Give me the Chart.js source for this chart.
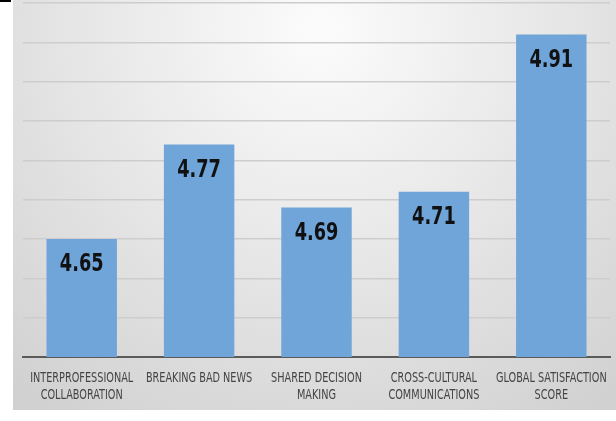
<!DOCTYPE html>
<html>
<head>
<meta charset="utf-8">
<script src="https://cdn.jsdelivr.net/npm/chart.js@4/dist/chart.umd.min.js"></script>
<style>
    html, body { margin: 0; padding: 0; background: #ffffff; }
    #wrap { position: relative; width: 616px; height: 421px; }
</style>
</head>
<body>
<div id="wrap"><canvas id="scores" width="616" height="421"></canvas></div>
<script>
// mean scores per topic
const categories = [
    ['INTERPROFESSIONAL', 'COLLABORATION'],
    ['BREAKING BAD NEWS'],
    ['SHARED DECISION', 'MAKING'],
    ['CROSS-CULTURAL', 'COMMUNICATIONS'],
    ['GLOBAL SATISFACTION', 'SCORE']
];
const scores = [4.65, 4.77, 4.69, 4.71, 4.91];
const gridValues = [4.5, 4.55, 4.6, 4.65, 4.7, 4.75, 4.8, 4.85, 4.9, 4.95];

const condensed = '"DejaVu Sans Condensed", "Liberation Sans", sans-serif';

// grey panel with a light spot near the top
const panelBackground = {
    id: 'panelBackground',
    beforeDraw(chart) {
        const c = chart.ctx;
        const x0 = 13, y0 = 0, x1 = chart.width, y1 = 410;
        const g = c.createRadialGradient(320, 30, 10, 320, 30, 480);
        g.addColorStop(0, '#fbfbfb');
        g.addColorStop(0.45, '#e8e8e8');
        g.addColorStop(1, '#d0d0d0');
        c.save();
        c.fillStyle = g;
        c.fillRect(x0, y0, x1 - x0, y1 - y0);
        c.fillStyle = '#000000';
        c.fillRect(0, 0, 11, 2);
        c.restore();
    }
};

// draws text squeezed horizontally, centred on x
function narrowText(c, text, x, y, squeeze) {
    c.save();
    c.translate(x, y);
    c.scale(squeeze, 1);
    c.fillText(text, 0, 0);
    c.restore();
}

// value printed inside the top of each bar
const barValues = {
    id: 'barValues',
    afterDatasetsDraw(chart) {
        const c = chart.ctx;
        const meta = chart.getDatasetMeta(0);
        c.save();
        c.fillStyle = '#111111';
        c.font = 'bold 24px ' + condensed;
        c.textAlign = 'center';
        c.textBaseline = 'middle';
        meta.data.forEach((bar, i) => {
            narrowText(c, scores[i].toFixed(2), bar.x, bar.y + 26, 0.82);
        });
        c.restore();
    }
};

// category names under the axis, in a narrow face
const categoryLabels = {
    id: 'categoryLabels',
    afterDraw(chart) {
        const c = chart.ctx;
        const xs = chart.scales.x;
        const top = chart.chartArea.bottom;
        c.save();
        c.fillStyle = '#444444';
        c.font = '13.5px ' + condensed;
        c.textAlign = 'center';
        c.textBaseline = 'middle';
        categories.forEach((lines, i) => {
            const x = xs.getPixelForTick(i);
            lines.forEach((line, j) => {
                narrowText(c, line, x, top + 21 + j * 17, 0.8);
            });
        });
        c.restore();
    }
};

new Chart(document.getElementById('scores'), {
    type: 'bar',
    data: {
        labels: categories,
        datasets: [{
            data: scores,
            backgroundColor: '#6fa5d8',
            borderWidth: 0,
            categoryPercentage: 1,
            barPercentage: 0.6
        }]
    },
    options: {
        responsive: false,
        animation: false,
        layout: { padding: { left: 23, right: 6, top: 3, bottom: 56 } },
        plugins: {
            legend: { display: false },
            tooltip: { enabled: false }
        },
        scales: {
            x: {
                grid: { display: false },
                border: { display: true, color: '#5a5a5a', width: 2 },
                ticks: { display: false }
            },
            y: {
                min: 4.5,
                max: 4.95,
                afterBuildTicks(axis) {
                    axis.ticks = gridValues.map(v => ({ value: v }));
                },
                grid: { color: '#cdcdcd', lineWidth: 1.5, drawTicks: false },
                border: { display: false },
                ticks: { display: false }
            }
        }
    },
    plugins: [panelBackground, barValues, categoryLabels]
});
</script>
</body>
</html>
